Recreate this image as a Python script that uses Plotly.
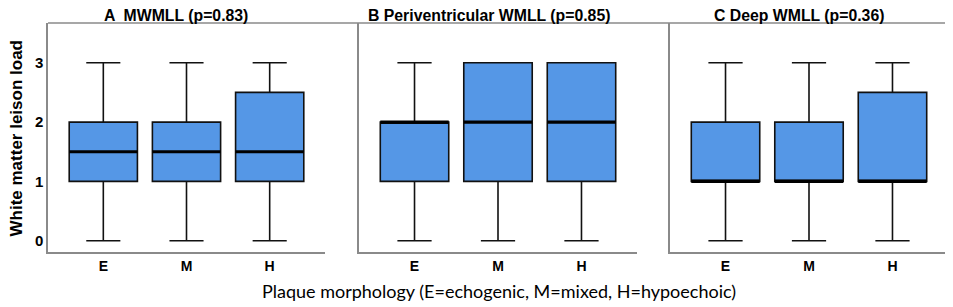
import plotly.graph_objects as go

W, H = 953, 307
OFF = 8  # page body margin offset in the browser

categories = ["E", "M", "H"]
panel_titles = ["<b>A  MWMLL (p=0.83)</b>",
                "<b>B Periventricular WMLL (p=0.85)</b>",
                "<b>C Deep WMLL (p=0.36)</b>"]

# panel A: MWMLL
a_low = [0, 0, 0]
a_q1 = [1, 1, 1]
a_med = [1.5, 1.5, 1.5]
a_q3 = [2, 2, 2.5]
a_high = [3, 3, 3]
# panel B: Periventricular WMLL
b_low = [0, 0, 0]
b_q1 = [1, 1, 1]
b_med = [2, 2, 2]
b_q3 = [2, 3, 3]
b_high = [3, 3, 3]
# panel C: Deep WMLL
c_low = [0, 0, 0]
c_q1 = [1, 1, 1]
c_med = [1, 1, 1]
c_q3 = [2, 2, 2.5]
c_high = [3, 3, 3]

yticks = [0, 1, 2, 3]
ylabel = "White matter leison load"
xlabel = "Plaque morphology (E=echogenic, M=mixed, H=hypoechoic)"

panels = [(a_low, a_q1, a_med, a_q3, a_high),
          (b_low, b_q1, b_med, b_q3, b_high),
          (c_low, c_q1, c_med, c_q3, c_high)]

px = lambda v: (v - OFF) / W
py = lambda v: 1 - (v - OFF) / H

xdomains = [(48, 325), (359, 637), (670, 948)]
title_centers = [176, 489, 799]
ydom = [py(252), py(23)]
BOXW = 0.82
FILL = "#5597E6"
BORDER = "#8a8a8a"
FONT = "Liberation Sans, Arial"

fig = go.Figure()
pos = [0, 1, 2]
for i, (lo, q1, md, q3, hi) in enumerate(panels):
    xa = "x" if i == 0 else f"x{i+1}"
    ya = "y" if i == 0 else f"y{i+1}"
    fig.add_trace(go.Box(
        x=pos, q1=q1, median=md, q3=q3, lowerfence=lo, upperfence=hi,
        width=BOXW, whiskerwidth=0.5, fillcolor=FILL,
        line=dict(color="#111111", width=1.6), boxpoints=False,
        xaxis=xa, yaxis=ya, showlegend=False, hoverinfo="skip"))
    mx, my = [], []
    for p, m in zip(pos, md):
        mx += [p - BOXW / 2, p + BOXW / 2, None]
        my += [m, m, None]
    fig.add_trace(go.Scatter(x=mx, y=my, mode="lines",
                             line=dict(color="black", width=3.2),
                             xaxis=xa, yaxis=ya, showlegend=False, hoverinfo="skip"))

layout = dict(width=W, height=H, margin=dict(l=0, r=0, t=0, b=0),
              paper_bgcolor="white", plot_bgcolor="white",
              font=dict(family=FONT, color="black"))
for i in range(3):
    xk = "xaxis" if i == 0 else f"xaxis{i+1}"
    yk = "yaxis" if i == 0 else f"yaxis{i+1}"
    layout[xk] = dict(domain=[px(xdomains[i][0]), px(xdomains[i][1])],
                      range=[-0.665, 2.665], tickvals=pos, ticktext=categories,
                      showgrid=False, zeroline=False, showline=True,
                      linecolor=BORDER, linewidth=1.5, ticks="",
                      tickfont=dict(size=14, family=FONT, weight="bold"),
                      anchor="y" if i == 0 else f"y{i+1}")
    layout[yk] = dict(domain=ydom, range=[-0.19, 3.67], tickvals=yticks,
                      showgrid=False, zeroline=False, showline=True,
                      linecolor=BORDER, linewidth=1.5, ticks="",
                      showticklabels=(i == 0),
                      tickfont=dict(size=15, family=FONT, weight="bold"),
                      anchor="x" if i == 0 else f"x{i+1}")
fig.update_layout(**layout)

# continuous top border
fig.add_shape(type="line", xref="paper", yref="paper",
              x0=px(48), x1=1, y0=py(23), y1=py(23),
              line=dict(color=BORDER, width=1.5))

for t, cx in zip(panel_titles, title_centers):
    fig.add_annotation(text=t, xref="paper", yref="paper", x=px(cx), y=py(15),
                       showarrow=False, xanchor="center", yanchor="middle",
                       font=dict(size=15.8, family=FONT))

fig.add_annotation(text=f"<b>{ylabel}</b>", xref="paper", yref="paper",
                   x=px(15.5), y=py(139), textangle=-90, showarrow=False,
                   xanchor="center", yanchor="middle",
                   font=dict(size=17, family=FONT))
fig.add_annotation(text=xlabel, xref="paper", yref="paper",
                   x=px(499), y=py(291), showarrow=False,
                   xanchor="center", yanchor="middle",
                   font=dict(size=18, family="Lato", color="#000"))

fig.write_html("out.html")
